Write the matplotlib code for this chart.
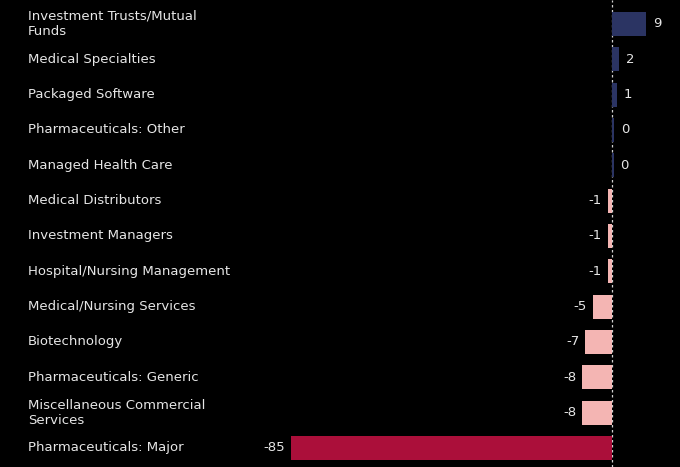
import matplotlib
matplotlib.use("Agg")
import matplotlib.pyplot as plt
from matplotlib.transforms import blended_transform_factory, offset_copy

categories = [
    "Investment Trusts/Mutual\nFunds",
    "Medical Specialties",
    "Packaged Software",
    "Pharmaceuticals: Other",
    "Managed Health Care",
    "Medical Distributors",
    "Investment Managers",
    "Hospital/Nursing Management",
    "Medical/Nursing Services",
    "Biotechnology",
    "Pharmaceuticals: Generic",
    "Miscellaneous Commercial\nServices",
    "Pharmaceuticals: Major",
]
values = [9.0, 1.9, 1.3, 0.45, 0.4, -1.1, -1.1, -1.1, -5.0, -7.1, -7.9, -7.9, -85.0]

POS = "#2b3463"
NEG = "#f4b5b3"
MAJOR = "#ab0f3a"
TXT = "#e6e6e6"

fig = plt.figure(figsize=(6.8, 4.67), dpi=100, facecolor="black")
ax = fig.add_axes([0, 0, 1, 1], facecolor="black")

ypos = list(range(len(categories)))
colors = []
vmin = min(values)
for v in values:
    if v >= 0:
        colors.append(POS)
    elif v == vmin:
        colors.append(MAJOR)
    else:
        colors.append(NEG)

ax.barh(ypos, values, height=0.68, color=colors, zorder=2)

px_per_unit = 3.776
ax.set_xlim(-612 / px_per_unit, 68 / px_per_unit)
ax.set_ylim(12.54, -0.679)

ax.axvline(0, color="#d0d0d0", lw=0.9, ls=(0, (2, 2)), zorder=1)

trans = blended_transform_factory(ax.transAxes, ax.transData)
for y, lab in zip(ypos, categories):
    ax.text(28 / 680, y, lab, transform=trans, ha="left", va="center",
            color=TXT, fontsize=9.5, linespacing=1.2)

for y, v in zip(ypos, values):
    label = f"{round(v):d}"
    if v >= 0:
        t = offset_copy(ax.transData, fig=fig, x=7, y=0, units="dots")
        ax.text(v, y, label, transform=t, ha="left", va="center", color=TXT, fontsize=9.5)
    else:
        t = offset_copy(ax.transData, fig=fig, x=-6, y=0, units="dots")
        ax.text(v, y, label, transform=t, ha="right", va="center", color=TXT, fontsize=9.5)

ax.axis("off")
fig.savefig("out.png", dpi=100, facecolor="black")
